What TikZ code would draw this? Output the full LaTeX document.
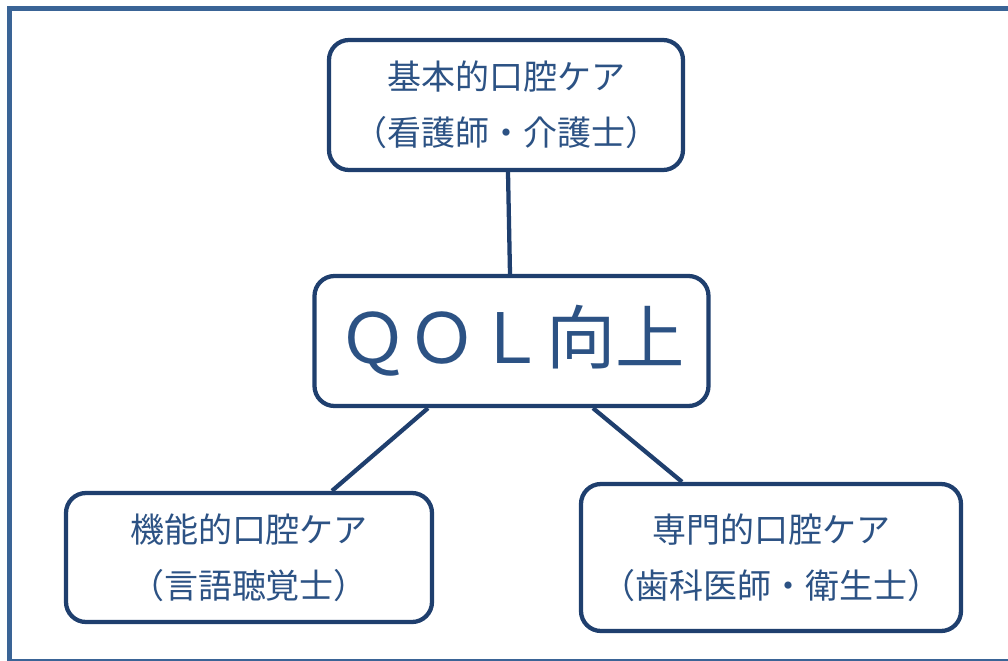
\documentclass[tikz,border=0pt]{standalone}
\usepackage{fontspec}
\setmainfont{Noto Sans CJK JP}
\usetikzlibrary{calc}
\definecolor{boxline}{HTML}{1F3F6E}
\definecolor{txtcol}{HTML}{2C5284}
\definecolor{framecol}{HTML}{3A6496}
\tikzset{
  carebox/.style={draw=boxline, line width=3.2pt, rounded corners=15pt, fill=white,
    text=txtcol, align=center, inner sep=0pt,
    font=\fontsize{25.5}{42}\selectfont},
  link/.style={draw=boxline, line width=3.2pt},
  frameline/.style={draw=framecol, line width=3.75pt}
}
\begin{document}
\begin{tikzpicture}[x=0.75pt, y=-0.75pt]
\useasboundingbox (0,0) rectangle (1008,661);
\begin{scope}
\clip (0,0) rectangle (1008,661);
\draw[frameline] (9.5,8) rectangle (1016,661.5);
\end{scope}
\node[carebox, minimum width=354*0.75pt, minimum height=130*0.75pt] (top) at (506,105)
  {基本的口腔ケア\\（看護師・介護士）};
\node[carebox, minimum width=394*0.75pt, minimum height=130*0.75pt,
  font=\fontsize{52}{58}\selectfont] (qol) at (511.5,341) {ＱＯＬ向上};
\node[carebox, minimum width=366*0.75pt, minimum height=129*0.75pt] (bl) at (249,557.5)
  {機能的口腔ケア\\（言語聴覚士）};
\node[carebox, minimum width=380*0.75pt, minimum height=147*0.75pt] (br) at (771,557.5)
  {専門的口腔ケア\\（歯科医師・衛生士）};
\draw[link] ($(top.south)+(2,0)$) -- ($(qol.north)+(-1.5,0)$);
\draw[link] ($(qol.south)+(-83.5,0)$) -- ($(bl.north)+(83,0)$);
\draw[link] ($(qol.south)+(81.5,0)$) -- ($(br.north)+(-89,0)$);
\end{tikzpicture}
\end{document}
